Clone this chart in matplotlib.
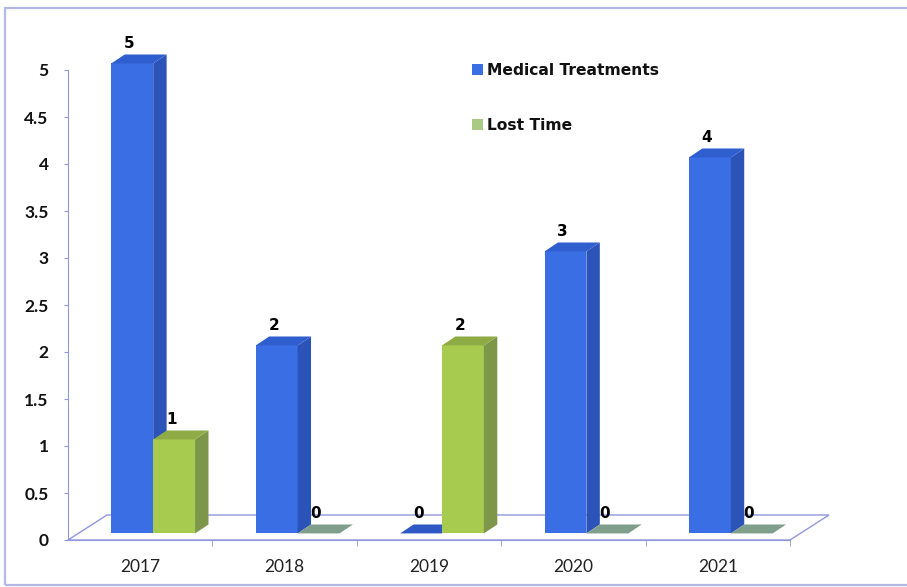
import matplotlib.pyplot as plt
from matplotlib.patches import Rectangle, Polygon, Patch

# Injury counts per year
years = ['2017', '2018', '2019', '2020', '2021']
medical_treatments = [5, 2, 0, 3, 4]
lost_time = [1, 0, 2, 0, 0]
series_names = ['Medical Treatments', 'Lost Time']

# face colours: front, side, top, flat (zero-height) bar
blue = {'front': '#3a6ee4', 'side': '#2b53b8', 'top': '#2f5fcf', 'flat': '#2e58c4'}
green = {'front': '#a6cb4f', 'side': '#7d964a', 'top': '#8eab46', 'flat': '#7f9e8c'}
axis_col = '#9097dc'

plt.rcParams['font.family'] = ['Lato', 'DejaVu Sans']

fig = plt.figure(figsize=(9.07, 5.87), dpi=100)
fig.patch.set_facecolor('white')

# chart border (right edge runs off the canvas)
fig.patches.append(Rectangle((5 / 907, 2 / 587), 1.2, 1 - 10 / 587, transform=fig.transFigure,
                             fill=False, edgecolor='#b4b8e6', linewidth=1.6))

ax = fig.add_axes([68 / 907, 47 / 587, 722 / 907, 470 / 587])
ax.set_xlim(0, 5)
ax.set_ylim(0, 5)
ax.set_facecolor('none')

# pseudo-3D geometry (data units)
bar_w = 0.29
offsets = [0.30, 0.59]
depth_x, depth_y = 0.093, 0.095
base = 0.07
floor_dx, floor_dy = 0.27, 0.266

# floor
floor = Polygon([(0, 0), (5, 0), (5 + floor_dx, floor_dy), (floor_dx, floor_dy)],
                closed=True, facecolor='white', edgecolor=axis_col, linewidth=1.0,
                clip_on=False, zorder=1)
ax.add_patch(floor)


def draw_bar(x0, value, cols, z):
    x1 = x0 + bar_w
    top = base + value
    if value == 0:
        ax.add_patch(Polygon([(x0, base), (x1, base), (x1 + depth_x, base + depth_y),
                              (x0 + depth_x, base + depth_y)], closed=True,
                             facecolor=cols['flat'], edgecolor='none', clip_on=False, zorder=z))
        return
    ax.add_patch(Rectangle((x0, base), bar_w, value, facecolor=cols['front'],
                           edgecolor='none', clip_on=False, zorder=z))
    ax.add_patch(Polygon([(x1, base), (x1 + depth_x, base + depth_y),
                          (x1 + depth_x, top + depth_y), (x1, top)], closed=True,
                         facecolor=cols['side'], edgecolor='none', clip_on=False, zorder=z))
    ax.add_patch(Polygon([(x0, top), (x1, top), (x1 + depth_x, top + depth_y),
                          (x0 + depth_x, top + depth_y)], closed=True,
                         facecolor=cols['top'], edgecolor='none', clip_on=False, zorder=z))


for i in range(len(years)):
    for s, (vals, cols) in enumerate([(medical_treatments, blue), (lost_time, green)]):
        x0 = i + offsets[s]
        draw_bar(x0, vals[i], cols, 3 + s)
        ax.text(x0 + bar_w / 2 - 0.02, base + vals[i] + depth_y + 0.04, str(vals[i]),
                ha='center', va='bottom', fontsize=11, fontweight='bold',
                family=['DejaVu Sans'], color='black', zorder=2, clip_on=False)

# axes styling
for side in ['top', 'right']:
    ax.spines[side].set_visible(False)
ax.spines['left'].set_color(axis_col)
ax.spines['bottom'].set_color(axis_col)
ax.spines['left'].set_zorder(0.5)

ax.set_yticks([0, 0.5, 1, 1.5, 2, 2.5, 3, 3.5, 4, 4.5, 5])
ax.set_yticklabels(['0', '0.5', '1', '1.5', '2', '2.5', '3', '3.5', '4', '4.5', '5'])
ax.tick_params(axis='y', length=3, color=axis_col, pad=11, labelsize=12.5, labelcolor='#111111')
for lbl in ax.get_yticklabels():
    lbl.set_fontweight('bold')

ax.set_xticks([i + 0.5 for i in range(len(years))])
ax.set_xticklabels(years)
ax.set_xticks([1, 2, 3, 4, 5], minor=True)
ax.tick_params(axis='x', which='major', length=0, pad=14, labelsize=12.5, labelcolor='#222222')
ax.tick_params(axis='x', which='minor', length=4, color=axis_col)

handles = [Patch(facecolor=blue['front'], edgecolor='none'),
           Patch(facecolor='#a9c985', edgecolor='none')]
leg = fig.legend(handles, series_names, loc='upper left', bbox_to_anchor=(464 / 907, 1 - 55 / 587),
                 frameon=False, handlelength=0.7, handleheight=0.7, handletextpad=0.25,
                 labelspacing=2.6, borderpad=0,
                 prop={'family': ['DejaVu Sans'], 'weight': 'bold', 'size': 11.2})
for t in leg.get_texts():
    t.set_color('#111111')

plt.savefig('out.png', dpi=100)
